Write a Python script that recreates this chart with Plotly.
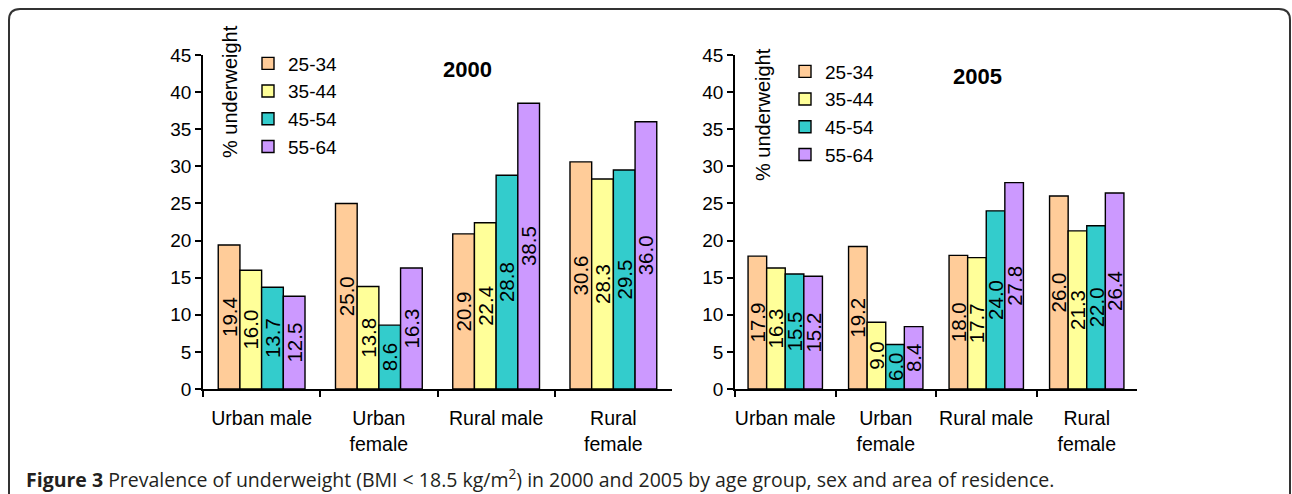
import plotly.graph_objects as go

W, H = 1292, 494

categories = ["Urban male", "Urban<br>female", "Rural male", "Rural<br>female"]
age_groups = ["25-34", "35-44", "45-54", "55-64"]
colors = ["#FFCC99", "#FFFF99", "#33CCCC", "#CC99FF"]

y2000_25_34 = [19.4, 25.0, 20.9, 30.6]
y2000_35_44 = [16.0, 13.8, 22.4, 28.3]
y2000_45_54 = [13.7, 8.6, 28.8, 29.5]
y2000_55_64 = [12.5, 16.3, 38.5, 36.0]

y2005_25_34 = [17.9, 19.2, 18.0, 26.0]
y2005_35_44 = [16.3, 9.0, 17.7, 21.3]
y2005_45_54 = [15.5, 6.0, 24.0, 22.0]
y2005_55_64 = [15.2, 8.4, 27.8, 26.4]

data2000 = [y2000_25_34, y2000_35_44, y2000_45_54, y2000_55_64]
data2005 = [y2005_25_34, y2005_35_44, y2005_45_54, y2005_55_64]

FONT = "Liberation Sans, Arial, sans-serif"

def px(x):
    return x / W

def py(y):
    return (H - y) / H

fig = go.Figure()

for panel, (data, xa, ya, leg) in enumerate([(data2000, "x", "y", "legend"), (data2005, "x2", "y2", "legend2")]):
    for i, ag in enumerate(age_groups):
        fig.add_trace(go.Bar(
            x=categories, y=data[i], name=ag,
            xaxis=xa, yaxis=ya, legend=leg,
            offsetgroup=str(i),
            marker=dict(color=colors[i], line=dict(color="black", width=1.4)),
            text=[f"{v:.1f}" for v in data[i]],
            textposition="inside", insidetextanchor="middle", textangle=-90,
            constraintext="none",
            textfont=dict(family=FONT, size=20.5, color="black"),
            hoverinfo="skip",
        ))

axis_common = dict(showline=True, linecolor="black", linewidth=1.5, ticks="outside",
                   tickcolor="black", ticklen=6, tickwidth=1.5, showgrid=False, zeroline=False)
yfont = dict(family=FONT, size=19, color="black")
xfont = dict(family=FONT, size=19.5, color="black")

fig.update_layout(
    width=W, height=H, margin=dict(l=0, r=0, t=0, b=0, pad=0, autoexpand=False),
    paper_bgcolor="white", plot_bgcolor="white",
    barmode="group", bargap=0.26, bargroupgap=0,
    xaxis=dict(domain=[px(203), px(672)], anchor="y", tickson="boundaries", ticklabelstandoff=11,
               tickangle=0, tickfont=xfont, automargin=False, **axis_common),
    yaxis=dict(domain=[py(389), py(55)], anchor="x", range=[0, 45], dtick=5, tickfont=yfont,
               automargin=False, **axis_common),
    xaxis2=dict(domain=[px(735), px(1137)], anchor="y2", tickson="boundaries", ticklabelstandoff=11,
                tickangle=0, tickfont=xfont, automargin=False, **axis_common),
    yaxis2=dict(domain=[py(389), py(55)], anchor="x2", range=[0, 45], dtick=5, tickfont=yfont,
                automargin=False, **axis_common),
    legend=dict(x=px(248), y=py(44.5), xanchor="left", yanchor="top", bgcolor="rgba(0,0,0,0)",
                font=dict(family=FONT, size=19, color="black"), itemwidth=30, tracegroupgap=0),
    legend2=dict(x=px(785), y=py(52.5), xanchor="left", yanchor="top", bgcolor="rgba(0,0,0,0)",
                 font=dict(family=FONT, size=19, color="black"), itemwidth=30, tracegroupgap=0),
    showlegend=True,
)

def ann(text, x, y, size, angle=0):
    return dict(text=text, x=px(x), y=py(y), xref="paper", yref="paper", showarrow=False,
                xanchor="center", yanchor="middle", textangle=angle,
                font=dict(family=FONT, size=size, color="black"))

annotations = [
    ann("<b>2000</b>", 467, 69, 22),
    ann("<b>2005</b>", 977, 77, 22),
    ann("% underweight", 230, 92, 20, -90),
    ann("% underweight", 763, 115, 20, -90),
    dict(text="<b>Figure 3</b> Prevalence of underweight (BMI &lt; 18.5 kg/m<sup>2</sup>) in 2000 and 2005 by age group, sex and area of residence.",
         x=px(24), y=py(478), xref="paper", yref="paper", xanchor="left", yanchor="middle",
         showarrow=False, font=dict(family="Open Sans, sans-serif", size=19.5, color="#231f20")),
]
fig.update_layout(annotations=annotations)

x0, x1 = px(9), px(1290)
yt = py(9)
rx, ry = 11 / W, 11 / H
path = (f"M {x0},-0.02 L {x0},{yt - ry} Q {x0},{yt} {x0 + rx},{yt} "
        f"L {x1 - rx},{yt} Q {x1},{yt} {x1},{yt - ry} L {x1},-0.02")
fig.add_shape(type="path", path=path, xref="paper", yref="paper",
              line=dict(color="#333333", width=2))

fig.write_html("out.html", config={"displayModeBar": False},
               post_script="document.body.style.margin='0';document.body.style.padding='0';document.body.style.overflow='hidden';")
